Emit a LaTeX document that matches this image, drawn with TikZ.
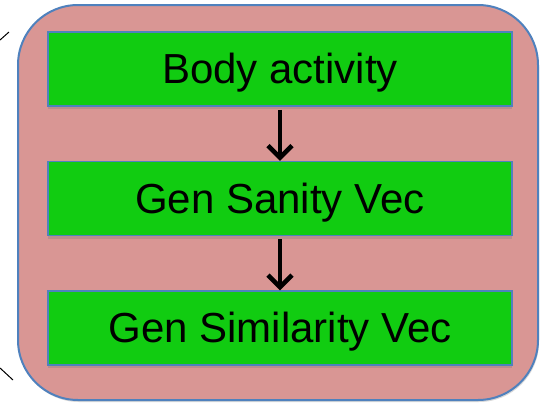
\documentclass[tikz,border=0pt]{standalone}
\usepackage{fontspec}
\setmainfont{Liberation Sans}
\usetikzlibrary{matrix,arrows.meta,shadows}
\definecolor{framepink}{RGB}{217,150,148}
\definecolor{stagegreen}{RGB}{17,204,17}
\definecolor{edgeblue}{RGB}{79,129,189}
\tikzset{
	stagebox/.style={draw=edgeblue, line width=1.5pt, fill=stagegreen, minimum width=464pt, minimum height=74pt, inner sep=0pt, text height=35pt, text depth=6pt, font=\fontsize{42}{50}\selectfont, drop shadow={shadow xshift=0pt, shadow yshift=-3pt, opacity=0.35, fill=gray}},
	stepline/.style={line width=4.5pt, -{Straight Barb[length=12pt,width=24pt]}},
}

\begin{document}
\begin{tikzpicture}[x=1pt,y=-1pt]
			\useasboundingbox (0,0) rectangle (544,405);
			\node[draw=edgeblue, line width=2pt, fill=framepink, rounded corners=60pt, minimum width=520pt, minimum height=395pt, drop shadow={shadow xshift=1pt, shadow yshift=-2pt, opacity=0.3, fill=gray}] (frame) at (278,202.5) {};
			\matrix (flow) [matrix of nodes, row sep=54pt, nodes=stagebox] at (280,198.5)
			{
				Body activity \\
				Gen Sanity Vec \\
				Gen Similarity Vec \\
			};
			\path[stepline]
			([yshift=-3pt]flow-1-1.south) edge (flow-2-1.north)
			([yshift=-3pt]flow-2-1.south) edge (flow-3-1.north);
			\coordinate (top-a) at (0,40);
			\coordinate (top-b) at (9,32);
			\coordinate (bot-a) at (0,368);
			\coordinate (bot-b) at (13,380);
			\draw[line width=1pt] (top-a) -- (top-b);
			\draw[line width=1pt] (bot-a) -- (bot-b);
		\end{tikzpicture}
\end{document}
